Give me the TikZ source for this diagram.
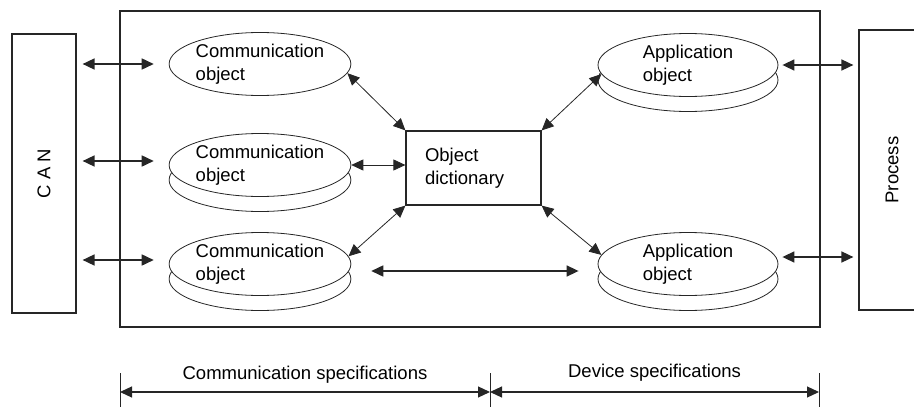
\documentclass[tikz,border=0pt]{standalone}
\usepackage{fontspec}
\setmainfont{Liberation Sans}
\usetikzlibrary{positioning,arrows.meta,shapes.geometric,shadows,calc}
\definecolor{ink}{HTML}{262626}

\begin{document}
\begin{tikzpicture}[x=1pt,y=-1pt,font=\fontsize{18.5}{23}\selectfont,
  >={Triangle[length=12pt,width=11pt]},
  box/.style={draw=ink,line width=1.2pt,inner sep=0pt},
  obj/.style={ellipse,draw=ink,fill=white,line width=0.8pt,minimum width=180pt,minimum height=63pt,inner sep=0pt,align=left},
  disk/.style={obj,general shadow={draw=ink,fill=white,line width=0.8pt,shadow yshift=-15pt}},
  link/.style={<->,draw=ink,line width=0.8pt},
  bus/.style={<->,draw=ink,line width=1.6pt}]
\useasboundingbox (0,0) rectangle (914,407);
\clip (0,0) rectangle (914,407);
% frames
\node[box,minimum width=700pt,minimum height=316pt] (main) at (470,169) {};
\node[box,minimum width=64pt,minimum height=279pt] (can) at (44,173.5) {};
\node[rotate=90] (canlbl) at (can) {C A N};
\node[box,minimum width=66pt,minimum height=280pt] (proc) at (892,170) {};
\node[rotate=90] (proclbl) at (proc) {Process};
% objects
\node[obj] (c1) at (260,64) {Communication\\object};
\node[disk] (c2) at (260,165) {Communication\\object};
\node[disk] (c3) at (260,264) {Communication\\object};
\node[disk] (a1) at (688,65) {Application\\object};
\node[disk] (a2) at (688,264) {Application\\object};
\node[box,minimum width=135pt,minimum height=74pt,text width=97pt,inner xsep=19pt,align=left] (dict) at (473.5,168) {Object\\dictionary};
% CAN side
\draw[bus,shorten <=6pt,shorten >=15pt] (can.east |- c1.west) -- (c1.west);
\foreach \n in {c2,c3}
  \draw[bus,shorten <=6pt,shorten >=15pt,transform canvas={yshift=4pt}] (can.east |- \n.west) -- (\n.west);
% dictionary links
\draw[link] (c1.-6) -- (dict.north west);
\draw[link] (c2.east) -- (c2.east -| dict.west);
\draw[link] (c3.5) -- (dict.south west);
\draw[link] (dict.north east) -- (a1.186);
\draw[link] (dict.south east) -- (a2.174);
\draw[bus,shorten <=20pt,shorten >=19pt,transform canvas={yshift=-7pt}] (c3.east) -- (a2.west);
% process side
\draw[bus,shorten <=4pt,shorten >=5pt] (a1.east) -- (a1.east -| proc.west);
\draw[bus,shorten <=4pt,shorten >=5pt,transform canvas={yshift=7pt}] (a2.east) -- (a2.east -| proc.west);
% specifications
\coordinate (t1) at (120,392);
\coordinate (t2) at (490,392);
\coordinate (t3) at (819,392);
\foreach \t in {t1,t2,t3}
  \draw[ink,line width=0.8pt] ($(\t)+(0,-19)$) -- ($(\t)+(0,15)$);
\draw[bus,line width=1.2pt] (t1) -- node[above=5pt] (comspec) {Communication specifications} (t2);
\draw[bus,line width=1.2pt] (t2) -- node[above=7pt] (devspec) {Device specifications} (t3);
\end{tikzpicture}
\end{document}
